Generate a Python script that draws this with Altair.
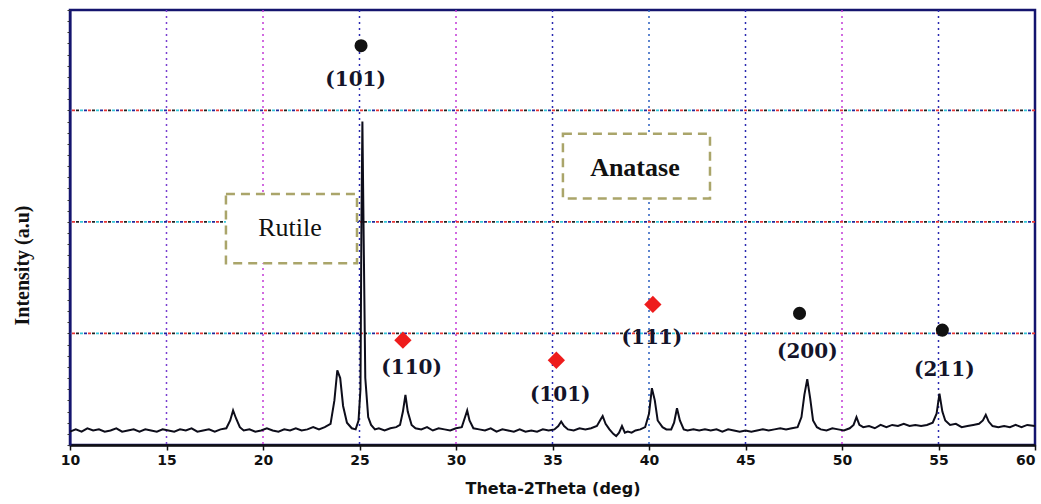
import altair as alt
import pandas as pd

# Diffraction pattern: 2-theta (deg) and intensity (a.u.)
two_theta = [
    10.0, 10.3, 10.6, 10.9, 11.2, 11.5, 11.8, 12.1, 12.4, 12.7, 13.0, 13.3, 13.6, 13.9,
    14.2, 14.5, 14.8, 15.1, 15.4, 15.7, 16.0, 16.3, 16.6, 16.9, 17.2, 17.5, 17.8, 18.1,
    18.3, 18.45, 18.6, 18.8, 19.0, 19.3, 19.6, 19.9, 20.2, 20.5, 20.8, 21.1, 21.4, 21.7,
    22.0, 22.3, 22.6, 22.9, 23.2, 23.5, 23.7, 23.85, 24.0, 24.15, 24.35, 24.6, 24.8, 24.95,
    25.05, 25.1, 25.15, 25.22, 25.3, 25.45, 25.6, 25.8, 26.0, 26.3, 26.6, 26.9, 27.1, 27.25,
    27.38, 27.5, 27.7, 27.9, 28.2, 28.5, 28.8, 29.1, 29.4, 29.7, 30.0, 30.3, 30.45, 30.58,
    30.7, 30.9, 31.2, 31.5, 31.8, 32.1, 32.4, 32.7, 33.0, 33.3, 33.6, 33.9, 34.2, 34.5,
    34.8, 35.1, 35.3, 35.45, 35.6, 35.8, 36.1, 36.4, 36.7, 37.0, 37.3, 37.5, 37.6, 37.75,
    37.95, 38.15, 38.3, 38.45, 38.6, 38.75, 38.9, 39.1, 39.3, 39.55, 39.8, 40.0, 40.15, 40.3,
    40.45, 40.7, 40.9, 41.15, 41.3, 41.45, 41.6, 41.8, 42.0, 42.3, 42.6, 42.9, 43.2, 43.5,
    43.8, 44.1, 44.4, 44.7, 45.0, 45.3, 45.6, 45.9, 46.2, 46.5, 46.8, 47.1, 47.4, 47.7,
    47.9, 48.05, 48.2, 48.35, 48.5, 48.7, 48.9, 49.2, 49.5, 49.8, 50.1, 50.4, 50.6, 50.75,
    50.9, 51.1, 51.4, 51.7, 52.0, 52.3, 52.6, 52.9, 53.2, 53.5, 53.8, 54.1, 54.4, 54.7,
    54.9, 55.05, 55.2, 55.35, 55.6, 55.9, 56.2, 56.5, 56.8, 57.1, 57.3, 57.45, 57.6, 57.8,
    58.1, 58.4, 58.7, 59.0, 59.3, 59.6, 60.0,
]
intensity = [
    0.12, 0.14, 0.12, 0.15, 0.13, 0.14, 0.12, 0.13, 0.15, 0.12, 0.13, 0.14, 0.12, 0.14,
    0.13, 0.12, 0.14, 0.13, 0.12, 0.14, 0.13, 0.15, 0.12, 0.13, 0.14, 0.12, 0.14, 0.15,
    0.22, 0.31, 0.24, 0.16, 0.13, 0.14, 0.12, 0.13, 0.15, 0.13, 0.12, 0.14, 0.13, 0.15,
    0.13, 0.14, 0.16, 0.14, 0.16, 0.19, 0.40, 0.67, 0.60, 0.35, 0.20, 0.15, 0.14, 0.22,
    0.50, 2.00, 2.90, 1.80, 0.60, 0.25, 0.18, 0.14, 0.15, 0.13, 0.15, 0.16, 0.18, 0.30,
    0.45, 0.30, 0.18, 0.15, 0.14, 0.16, 0.13, 0.15, 0.14, 0.13, 0.15, 0.16, 0.24, 0.31,
    0.22, 0.15, 0.14, 0.13, 0.15, 0.12, 0.14, 0.13, 0.12, 0.14, 0.12, 0.13, 0.12, 0.14,
    0.13, 0.14, 0.17, 0.21, 0.17, 0.14, 0.13, 0.15, 0.14, 0.15, 0.17, 0.23, 0.26, 0.19,
    0.14, 0.10, 0.08, 0.11, 0.17, 0.11, 0.12, 0.11, 0.13, 0.14, 0.16, 0.28, 0.51, 0.40,
    0.22, 0.16, 0.14, 0.14, 0.20, 0.33, 0.22, 0.14, 0.13, 0.14, 0.13, 0.14, 0.13, 0.14,
    0.12, 0.14, 0.13, 0.12, 0.13, 0.12, 0.13, 0.14, 0.13, 0.14, 0.15, 0.14, 0.15, 0.16,
    0.25, 0.45, 0.59, 0.42, 0.22, 0.16, 0.14, 0.13, 0.15, 0.14, 0.13, 0.15, 0.18, 0.25,
    0.18, 0.16, 0.17, 0.15, 0.18, 0.16, 0.18, 0.17, 0.19, 0.17, 0.18, 0.17, 0.18, 0.20,
    0.28, 0.46, 0.30, 0.22, 0.18, 0.19, 0.16, 0.17, 0.18, 0.19, 0.22, 0.27, 0.21, 0.17,
    0.16, 0.17, 0.16, 0.18, 0.16, 0.18, 0.17,
]

# Peak markers and Miller indices
mark_x = [25.08, 27.25, 35.2, 40.2, 47.8, 55.2]
mark_y = [3.58, 0.94, 0.76, 1.26, 1.18, 1.03]
mark_phase = ["rutile", "anatase", "anatase", "anatase", "rutile", "rutile"]
hkl_text = ["(101)", "(110)", "(101)", "(111)", "(200)", "(211)"]
hkl_x = [24.8, 27.7, 35.4, 40.15, 48.2, 55.3]
hkl_y = [3.27, 0.69, 0.45, 0.96, 0.83, 0.67]

# Phase boxes
phase_name = ["Rutile", "Anatase"]
box_x1 = [18.08, 35.54]
box_x2 = [24.87, 43.16]
box_y1 = [1.63, 2.21]
box_y2 = [2.25, 2.79]
phase_text_x = [21.4, 39.27]
phase_text_y = [1.95, 2.48]

# Grid positions
v_grid = [15, 20, 25, 30, 35, 40, 45, 50, 55]
v_grid_color = ["#7a3fd0", "#c23ad8", "#2a2ab0", "#c23ad8", "#2a2ab0",
                "#2a5fc0", "#2a2ab0", "#c23ad8", "#2a2ab0"]
h_grid = [1, 2, 3]
h_grid_colors = ["#e53535", "#1f2a9c", "#35c4d8", "#222222"]

x_tick_values = [10, 15, 20, 25, 30, 35, 40, 45, 50, 55, 60]

X_DOMAIN = [10, 60]
Y_DOMAIN = [0, 3.9]

xs = alt.Scale(domain=X_DOMAIN, nice=False, zero=False)
ys = alt.Scale(domain=Y_DOMAIN, nice=False, zero=False)

spectrum = pd.DataFrame({"theta": two_theta, "intensity": intensity})
markers = pd.DataFrame({"x": mark_x, "y": mark_y, "phase": mark_phase})
labels = pd.DataFrame({"x": hkl_x, "y": hkl_y, "text": hkl_text})
boxes = pd.DataFrame({"x1": box_x1, "x2": box_x2, "y1": box_y1, "y2": box_y2,
                      "name": phase_name, "tx": phase_text_x, "ty": phase_text_y})
vgrid = pd.DataFrame({"x": v_grid, "color": v_grid_color})

# last tick label sits at the right edge, so it is right-aligned to stay visible
x_axis = alt.Axis(
    values=x_tick_values, title="Theta-2Theta (deg)", grid=False, labelFlush=False,
    labelAlign=alt.ConditionalAxisLabelAlign(
        condition={"test": f"datum.value >= {X_DOMAIN[1]}", "value": "right"},
        value="center",
    ),
    labelFont="DejaVu Sans", labelFontWeight="bold", labelFontSize=14,
    labelColor="#111111", labelPadding=3, tickSize=5, tickColor="#111111",
    tickWidth=1.5, domainColor="#111111", domainWidth=2.5,
    titleFont="DejaVu Sans", titleFontWeight="bold", titleFontSize=16,
    titleColor="#111111", titlePadding=13,
)
y_axis = alt.Axis(
    title="Intensity (a.u)", labels=False, grid=False, tickCount=40,
    tickSize=3, tickColor="#333333", domainColor="#14146e", domainWidth=2,
    titleFont="Liberation Serif", titleFontWeight="bold", titleFontSize=20,
    titleColor="#111111", titleX=-48, titleY=255, titleAngle=270,
    titleAlign="center", titleBaseline="middle",
)

# Vertical dotted grid lines
vlines = alt.Chart(vgrid).mark_rule(strokeDash=[2, 4], strokeWidth=1.5).encode(
    x=alt.X("x:Q", scale=xs, axis=x_axis),
    color=alt.Color("color:N", scale=None),
)

# Horizontal grid lines drawn as interleaved coloured dashes
hlayers = []
for i, c in enumerate(h_grid_colors):
    hlayers.append(
        alt.Chart(pd.DataFrame({"y": h_grid})).mark_rule(
            color=c, strokeWidth=1.8, strokeDash=[3, 13], strokeDashOffset=-4 * i
        ).encode(y=alt.Y("y:Q", scale=ys, axis=y_axis))
    )

box_rect = alt.Chart(boxes).mark_rect(
    fill="white", stroke="#aaa56a", strokeWidth=2.5, strokeDash=[9, 6]
).encode(
    x=alt.X("x1:Q", scale=xs), x2="x2:Q",
    y=alt.Y("y1:Q", scale=ys), y2="y2:Q",
)
rutile_text = alt.Chart(boxes.iloc[[0]]).mark_text(
    font="Liberation Serif", fontSize=26, color="#111111"
).encode(x=alt.X("tx:Q", scale=xs), y=alt.Y("ty:Q", scale=ys), text="name:N")
anatase_text = alt.Chart(boxes.iloc[[1]]).mark_text(
    font="Liberation Serif", fontSize=26, fontWeight="bold", color="#111111"
).encode(x=alt.X("tx:Q", scale=xs), y=alt.Y("ty:Q", scale=ys), text="name:N")

line = alt.Chart(spectrum).mark_line(color="#0d0d1a", strokeWidth=2).encode(
    x=alt.X("theta:Q", scale=xs), y=alt.Y("intensity:Q", scale=ys),
)

rutile_pts = alt.Chart(markers).transform_filter(
    alt.datum.phase == "rutile"
).mark_point(shape="circle", filled=True, size=170, opacity=1, color="#111111").encode(
    x=alt.X("x:Q", scale=xs), y=alt.Y("y:Q", scale=ys),
)
anatase_pts = alt.Chart(markers).transform_filter(
    alt.datum.phase == "anatase"
).mark_point(shape="diamond", filled=True, size=300, opacity=1, color="#ee1c1c").encode(
    x=alt.X("x:Q", scale=xs), y=alt.Y("y:Q", scale=ys),
)

hkl = alt.Chart(labels).mark_text(
    font="DejaVu Serif", fontWeight="bold", fontSize=20, color="#14142a"
).encode(
    x=alt.X("x:Q", scale=xs), y=alt.Y("y:Q", scale=ys), text="text:N",
)

chart = alt.layer(
    vlines, *hlayers, box_rect, rutile_text, anatase_text, line,
    rutile_pts, anatase_pts, hkl
).properties(
    width=965, height=435,
    padding={"left": 70, "top": 10, "right": 6, "bottom": 59},
    autosize=alt.AutoSizeParams(type="none"),
    background="white",
).configure_view(
    stroke="#14146e", strokeWidth=2.5
)

chart.save("out.html", embed_options={"renderer": "svg", "actions": False})
